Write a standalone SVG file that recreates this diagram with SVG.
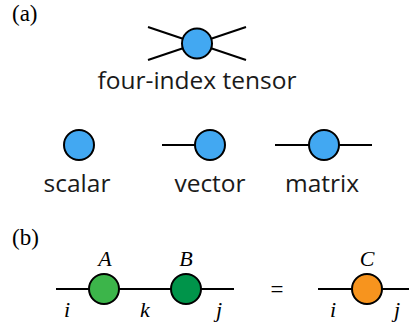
<svg xmlns="http://www.w3.org/2000/svg" width="409" height="332" viewBox="0 0 409 332">
<style>
.e{stroke:#000;stroke-width:2;fill:none}
.n{stroke:#000;stroke-width:2}
.blue{fill:#42A8F2}
.lt{font-family:"Open Sans","DejaVu Sans",sans-serif;font-size:24.5px;fill:#1a1a1a;text-anchor:middle}
.pl{font-family:"Liberation Serif",serif;font-size:23px;fill:#000}
.m{font-family:"Liberation Serif",serif;font-style:italic;font-size:22px;fill:#000;text-anchor:middle}
</style>
<rect width="409" height="332" fill="#fff"/>
<text class="pl" x="12" y="21">(a)</text>
<text class="pl" x="12" y="245">(b)</text>
<g id="connectors">
<line class="e" x1="148" y1="27" x2="197" y2="43.5"/>
<line class="e" x1="148" y1="60" x2="197" y2="43.5"/>
<line class="e" x1="246" y1="27" x2="197" y2="43.5"/>
<line class="e" x1="246" y1="60" x2="197" y2="43.5"/>
<line class="e" x1="162" y1="145" x2="210" y2="145"/>
<line class="e" x1="275" y1="145" x2="372" y2="145"/>
<line class="e" x1="56" y1="289" x2="234" y2="289"/>
<line class="e" x1="318" y1="289" x2="409" y2="289"/>
</g>
<g id="tensor4">
<circle class="n blue" cx="197" cy="43.5" r="15"/>
<text class="lt" x="197" y="89">four-index tensor</text>
</g>
<g id="scalar">
<circle class="n blue" cx="79" cy="145" r="15"/>
<text class="lt" x="77" y="192">scalar</text>
</g>
<g id="vector">
<circle class="n blue" cx="210" cy="145" r="15"/>
<text class="lt" x="210" y="192">vector</text>
</g>
<g id="matrix">
<circle class="n blue" cx="324" cy="145" r="15"/>
<text class="lt" x="322" y="192">matrix</text>
</g>
<g id="A">
<circle class="n" fill="#3CB54A" cx="104" cy="289" r="15"/>
<text class="m" x="105" y="266">A</text>
</g>
<g id="B">
<circle class="n" fill="#00944A" cx="186" cy="289" r="15"/>
<text class="m" x="186" y="266">B</text>
</g>
<g id="C">
<circle class="n" fill="#F7941E" cx="367" cy="289" r="15"/>
<text class="m" x="367" y="266">C</text>
</g>
<g id="labels">
<text class="m" x="67" y="317">i</text>
<text class="m" x="145" y="317">k</text>
<text class="m" x="219" y="317">j</text>
<text class="m" x="333" y="317">i</text>
<text class="m" x="397" y="317">j</text>
<text class="pl" x="277" y="297" text-anchor="middle">=</text>
</g>
</svg>
